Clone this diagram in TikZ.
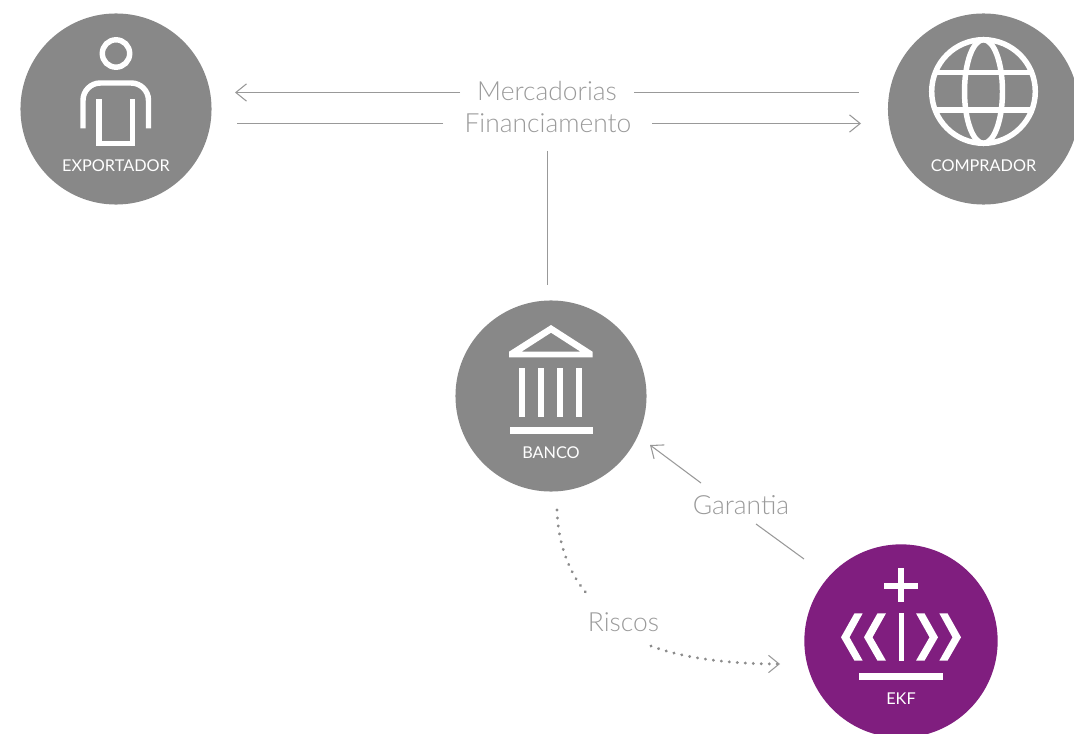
\documentclass[tikz,border=0pt]{standalone}
\usepackage{fontspec}
\setmainfont{Lato}[UprightFont=* Light]
\newfontfamily\capfont{Lato}
\usetikzlibrary{arrows.meta}
\definecolor{disc}{HTML}{888888}
\definecolor{ekfpurple}{HTML}{801E7F}
\definecolor{wire}{HTML}{999999}
\definecolor{dotgray}{HTML}{8C8C8C}
\definecolor{labelgray}{HTML}{9A9A9A}
\tikzset{
  x=0.75pt,y=-0.75pt,
  graydisc/.style={circle,fill=disc,minimum size=143.3pt,inner sep=0pt},
  purpledisc/.style={circle,fill=ekfpurple,minimum size=145pt,inner sep=0pt},
  caption/.style={text=white,font=\capfont\fontsize{12.2pt}{14pt}\selectfont,inner sep=0pt},
  flowlabel/.style={text=labelgray,font=\fontsize{19.8pt}{23pt}\selectfont,inner sep=0pt},
  wireline/.style={draw=wire,line width=0.8pt},
  arrowline/.style={wireline,-{Straight Barb[length=8pt,width=13pt,line width=0.8pt]}},
  dotline/.style={draw=dotgray,line width=2.4pt,line cap=round,dash pattern=on 0.01pt off 6pt},
  dotarrow/.style={dotline,-{Straight Barb[length=8pt,width=13pt,line width=0.8pt,line cap=butt,color=wire]}},
  icon/.style={draw=white,line width=4.1pt},
}
\begin{document}
\begin{tikzpicture}
\useasboundingbox (0,0) rectangle (1074,734);
% discs
\node[graydisc] (exp) at (116,109) {};
\node[graydisc] (comp) at (983.5,109) {};
\node[graydisc] (banco) at (551,396) {};
\node[purpledisc] (ekf) at (901,641) {};
% captions
\node[caption] (exptxt) at (116,165.5) {EXPORTADOR};
\node[caption] (comptxt) at (983.5,165.5) {COMPRADOR};
\node[caption] (bancotxt) at (551,452.5) {BANCO};
\node[caption] (ekftxt) at (901,698.5) {EKF};
% flow labels
\node[flowlabel] (merc) at (547,91) {Mercadorias};
\node[flowlabel] (fin) at (548,123) {Financiamento};
\node[flowlabel] (gar) at (741,505) {Garantia};
\node[flowlabel] (ris) at (623.5,622) {Riscos};
% free ends
\coordinate (m1) at (460,92.5);
\coordinate (m2) at (235,92.5);
\coordinate (m3) at (634,92.5);
\coordinate (m4) at (859,92.5);
\coordinate (f1) at (443,123.5);
\coordinate (f2) at (237,123.5);
\coordinate (f3) at (652,123.5);
\coordinate (f4) at (861,123.5);
\coordinate (v1) at (547.5,151);
\coordinate (v2) at (547.5,285);
\coordinate (g1) at (701,483);
\coordinate (g2) at (650,445);
\coordinate (g3) at (756,524);
\coordinate (g4) at (804,559);
\coordinate (r1) at (557,510);
\coordinate (r2) at (588,595);
\coordinate (r3) at (651,646);
\coordinate (r4) at (780,664);
% connectors
\draw[arrowline] (m1) -- (m2);
\draw[wireline] (m3) -- (m4);
\draw[wireline] (f1) -- (f2);
\draw[arrowline] (f3) -- (f4);
\draw[wireline] (v1) -- (v2);
\draw[arrowline] (g1) -- (g2);
\draw[wireline] (g3) -- (g4);
\draw[dotline] (r1) .. controls (558,545) and (570,575) .. (r2);
\draw[dotarrow] (r3) .. controls (680,657) and (725,664) .. (r4);
% person icon
\draw[icon] (116,53.5) circle[radius=13.7];
\draw[icon,rounded corners=13pt] (83,128.5) -- (83,83) -- (148.5,83) -- (148.5,128.5);
\draw[icon,miter limit=10] (99,99.5) -- (99,143.5) -- (132.5,143.5) -- (132.5,99.5);
% globe icon
\draw[icon] (983.5,91.5) circle[radius=51.8];
\draw[icon] (983.5,91.5) ellipse[x radius=19,y radius=51.8];
\draw[icon] (935,72.7) -- (1032,72.7);
\draw[icon] (935,110) -- (1032,110);
% bank icon
\fill[white,even odd rule] (551,325) -- (592.5,351.7) -- (592.5,357.3) -- (509,357.3) -- (509,351.7) -- cycle
  (551,332.7) -- (580.5,351.7) -- (521.5,351.7) -- cycle;
\foreach \cx in {519.3,538.3,557.3,576.3}
  \fill[white] (\cx,367.7) rectangle (\cx+5.7,416.7);
\fill[white] (510,426.7) rectangle (592.5,434);
% crown icon
\fill[white] (898,568.3) rectangle (904,602.3);
\fill[white] (884,583) rectangle (918,589);
\fill[white] (898.5,613) rectangle (903.5,660.7);
\fill[white] (841,637.3) -- (854.5,613.3) -- (862.7,613.3) -- (849.5,637.3) -- (862.7,660.7) -- (854.5,660.7) -- cycle;
\fill[white] (864,637.3) -- (877.5,613.3) -- (886,613.3) -- (872.5,637.3) -- (886,660.7) -- (877.5,660.7) -- cycle;
\fill[white] (961,637.3) -- (947.5,613.3) -- (939.3,613.3) -- (952.5,637.3) -- (939.3,660.7) -- (947.5,660.7) -- cycle;
\fill[white] (938,637.3) -- (924.5,613.3) -- (916,613.3) -- (929.5,637.3) -- (916,660.7) -- (924.5,660.7) -- cycle;
\fill[white] (859,673) rectangle (942.7,679.7);
\end{tikzpicture}
\end{document}
